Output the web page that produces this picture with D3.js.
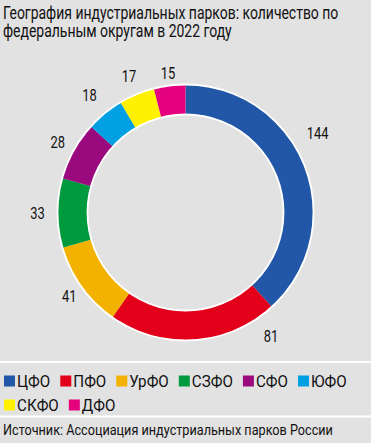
<!DOCTYPE html>
<html><head><meta charset="utf-8">
<script src="https://cdn.jsdelivr.net/npm/d3@7"></script>
<style>
html,body{margin:0;padding:0;background:#e2e2e2;}
svg{display:block;}
text{font-family:Roboto,"Noto Sans",sans-serif;fill:#111;}
</style></head><body>
<script>
const titleLines = ["География индустриальных парков: количество по", "федеральным округам в 2022 году"];
const categories = ["ЦФО", "ПФО", "УрФО", "СЗФО", "СФО", "ЮФО", "СКФО", "ДФО"];
const values = [144, 81, 41, 33, 28, 18, 17, 15];
const colors = ["#2157a6", "#e2001a", "#f4b200", "#009a3e", "#9a0a7e", "#00a0e2", "#fff100", "#e5007d"];
const source = "Источник: Ассоциация индустриальных парков России";

const W = 371, H = 443;

// draw a horizontally condensed text (mimics a narrow typeface)
function ctext(parent, x, y, str, size, k, anchor) {
  return parent.append("text")
    .attr("transform", `translate(${x},${y}) scale(${k},1)`)
    .attr("text-anchor", anchor || "start")
    .style("font-size", size + "px").text(str);
}

const svg = d3.select("body").append("svg").attr("width", W).attr("height", H);
svg.append("rect").attr("width", W).attr("height", H).attr("fill", "#e2e2e2");

// title (one text element, two lines)
const title = svg.append("text")
  .attr("transform", `translate(3,19) scale(0.755,1)`)
  .style("font-size", "18.5px");
titleLines.forEach((l, i) => title.append("tspan").attr("x", 0).attr("y", i * 17.7).text(l));

// donut
const cx = 185.5, cy = 212.5, rOut = 128, rIn = 98;
const g = svg.append("g").attr("transform", `translate(${cx},${cy})`);
const pie = d3.pie().sort(null).value(d => d)(values);
const arc = d3.arc().innerRadius(rIn).outerRadius(rOut);
g.selectAll("path.seg").data(pie).join("path").attr("class", "seg")
  .attr("d", arc).attr("fill", (d, i) => colors[i]);
g.append("circle").attr("r", rOut).attr("fill", "none").attr("stroke", "#fff").attr("stroke-width", 1.8);
g.append("circle").attr("r", rIn).attr("fill", "none").attr("stroke", "#fff").attr("stroke-width", 1.8);

// value labels: fraction along each segment and radius
const labelFrac = {"ЦФО": 0.43, "ПФО": 0.10};
const labelR = {"ЦФО": 154, "ПФО": 150, "УрФО": 143, "СЗФО": 148, "СФО": 146, "ЮФО": 152, "СКФО": 148, "ДФО": 141};
pie.forEach((d, i) => {
  const f = labelFrac[categories[i]] ?? 0.5;
  const a = d.startAngle + (d.endAngle - d.startAngle) * f;
  const r = labelR[categories[i]];
  ctext(g, r * Math.sin(a), -r * Math.cos(a) + 6, d.value, 17, 0.76, "middle");
});

// separators
svg.append("line").attr("x1", 0).attr("x2", W).attr("y1", 362).attr("y2", 362).attr("stroke", "#fff").attr("stroke-width", 2);
svg.append("line").attr("x1", 0).attr("x2", W).attr("y1", 416.5).attr("y2", 416.5).attr("stroke", "#fff").attr("stroke-width", 2);

// legend
const leg = svg.append("g");
let lx = 4, ly = 381;
const rowH = 24, maxX = 366, KL = 0.95;
categories.forEach((c, i) => {
  const item = leg.append("g");
  item.append("rect").attr("width", 11).attr("height", 11).attr("y", -5.5).attr("fill", colors[i]);
  const t = ctext(item, 13, 5.5, c, 16, KL);
  const w = 13 + t.node().getComputedTextLength() * KL;
  if (lx + w > maxX) { lx = 4; ly += rowH; }
  item.attr("transform", `translate(${lx},${ly})`);
  lx += w + 10;
});

ctext(svg, 3, 434.5, source, 15.5, 0.817);
</script>
</body></html>
